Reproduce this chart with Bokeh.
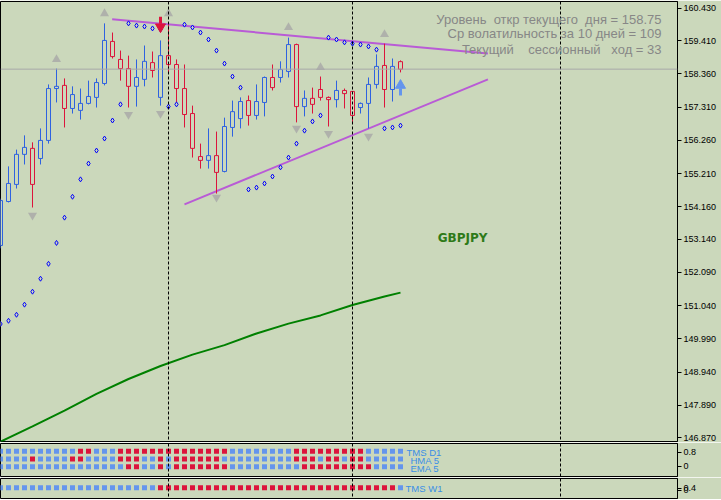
from bokeh.plotting import figure
from bokeh.models import (Range1d, FixedTicker, Span, Label, ColumnDataSource,
                          PrintfTickFormatter, AllLabels)
from bokeh.layouts import column
from bokeh.embed import file_html
from bokeh.resources import INLINE

# ---------------- data ----------------
bar_index = list(range(51))
open_ = [152.94, 154.33, 154.87, 155.82, 156.01, 155.69, 156.26, 157.90, 158.00, 157.27,
         157.21, 157.43, 157.62, 158.06, 159.39, 158.82, 158.53, 157.97, 158.19, 158.72,
         157.62, 158.94, 158.66, 157.90, 157.11, 155.75, 155.63, 155.78, 155.28, 156.67,
         156.95, 157.52, 157.05, 157.46, 158.25, 158.25, 158.44, 159.29, 157.33, 157.59,
         157.87, 157.62, 157.55, 157.84, 157.81, 157.30, 157.43, 158.03, 158.63, 157.87,
         158.75]
high = [154.42, 155.44, 155.97, 156.42, 156.20, 156.64, 158.03, 158.53, 158.22, 157.97,
        157.90, 158.15, 158.22, 159.96, 159.67, 159.10, 158.94, 158.82, 159.26, 159.07,
        159.42, 159.92, 158.82, 158.66, 157.36, 156.16, 156.64, 156.54, 156.98, 157.52,
        157.62, 157.68, 158.03, 158.28, 158.66, 158.76, 159.51, 159.32, 157.84, 157.93,
        158.28, 157.65, 158.15, 157.90, 157.81, 157.46, 158.25, 158.98, 159.32, 158.85,
        158.79]
low = [152.85, 154.30, 154.74, 155.50, 154.14, 155.50, 156.16, 157.46, 156.67, 157.11,
       156.92, 157.40, 157.30, 158.00, 158.85, 158.15, 157.30, 157.33, 157.97, 158.25,
       157.36, 158.41, 157.46, 156.67, 155.72, 155.37, 155.37, 154.58, 155.25, 156.38,
       156.64, 156.73, 156.92, 157.02, 157.84, 158.09, 158.25, 156.83, 157.02, 157.11,
       157.52, 156.70, 157.30, 157.27, 156.80, 157.11, 156.64, 157.90, 157.30, 157.49,
       158.41]
close = [154.36, 154.90, 155.82, 156.04, 154.87, 156.26, 157.90, 157.97, 157.27, 157.71,
         157.43, 157.65, 158.09, 159.42, 158.91, 158.53, 157.97, 158.25, 158.76, 158.47,
         158.94, 158.66, 157.90, 157.08, 156.01, 155.63, 155.78, 155.25, 156.70, 157.17,
         157.49, 157.05, 157.49, 158.25, 157.93, 158.50, 159.29, 157.33, 157.59, 157.40,
         157.62, 157.55, 157.84, 157.74, 157.05, 157.43, 158.03, 158.60, 157.87, 158.60,
         158.51]
sar = [150.46, 150.56, 150.75, 151.07, 151.48, 151.89, 152.36, 153.02, 153.82, 154.48,
       155.03, 155.53, 155.94, 156.32, 156.89, 157.40, 159.96, 159.89, 159.86, 159.80,
       159.77, 157.33, 157.40, 159.92, 159.83, 159.67, 159.45, 159.10, 158.69, 158.28,
       157.93, 154.71, 154.77, 154.90, 155.12, 155.41, 155.72, 156.16, 156.57, 156.86,
       157.05, 159.51, 159.45, 159.36, 159.32, 159.29, 159.23, 159.13, 156.64, 156.67,
       156.73]
ma_index = [0, 4, 8, 12, 16, 20, 24, 28, 32, 36, 40, 44, 48, 50]
ma_value = [146.74, 147.22, 147.72, 148.25, 148.72, 149.13, 149.49, 149.79, 150.16,
            150.47, 150.73, 151.06, 151.33, 151.45]
fractal_up_index = [7, 13, 21, 36, 40, 48]
fractal_up_price = [158.82, 160.27, 160.27, 159.83, 158.57, 159.61]
fractal_down_index = [4, 16, 20, 27, 37, 41, 46]
fractal_down_price = [153.89, 157.08, 157.11, 154.46, 156.64, 156.48, 156.39]
sell_signal_index = [20]
sell_signal_price = [159.85]
buy_signal_index = [50]
buy_signal_price = [158.00]
resistance_index = [13.96, 60.93]
resistance_price = [160.09, 159.01]
support_index = [23.0, 60.93]
support_price = [154.24, 158.19]
separator_index = [21, 44, 70]
price_ticks = [160.430, 159.410, 158.360, 157.310, 156.260, 155.210, 154.160,
               153.140, 152.090, 151.040, 149.990, 148.940, 147.890, 146.870]
bid_price = 158.513
day_open = "158.75"
avg_volatility = "109"
session_range = "33"
symbol = "GBPJPY"
tms_d1 = list("BBBBBBBBBBRRBBBRRRRRRRRRRRRRRBBBBBBBBRRRRRRRRRBBBBB")
hma_5 = list("BBBBRBBBBRRBBBBRRRBBRBRRRRRRBBBBBBBBBRRRBRRBRRBBBBB")
ema_5 = list("BBBBBBBBBBBBBBBBRRBBRBRRRRRRRBBBBBBBBBRRRRRRRRRBBBB")
tms_w1 = list("BBBBBBBBBBBBBBBBBBBBRRRRRRRRRRRRRRRRRRRRRRRRRRRRRRB")
panel2_ticks = [0, 0.8]
panel3_ticks = [0, 0.4]

# ---------------- style ----------------
BG = "#CBD8BB"
BULL = "#2F62E0"
BEAR = "#DC143C"
SQ_BLUE = "#6495ED"
SQ_RED = "#DC143C"
TL = "#B95BD6"
AXFONT = "Liberation Sans"
NB = "\u00a0"

X0 = 0.0
x_range = Range1d(X0, X0 + 677 / 8.0)


def kx(xpx):
    return xpx / 8.0 + X0


Y_TOP, Y_BOT = 160.651, 146.745
UPP = (Y_TOP - Y_BOT) / 440.0


def py(ypx):
    return Y_TOP - (ypx - 1) * UPP


def make_fig(h, yr, ticks, fmt):
    f = figure(width=721, height=h, x_range=x_range, y_range=yr,
               output_backend="svg", toolbar_location=None,
               x_axis_location=None, y_axis_location="right",
               min_border_left=0, min_border_right=44,
               min_border_top=1, min_border_bottom=1,
               background_fill_color=BG, border_fill_color=BG,
               outline_line_color="black", outline_line_width=1)
    f.xgrid.visible = False
    f.ygrid.visible = False
    ax = f.yaxis[0]
    ax.ticker = FixedTicker(ticks=ticks)
    ax.formatter = PrintfTickFormatter(format=fmt)
    ax.major_label_policy = AllLabels()
    ax.major_tick_out = 4
    ax.major_tick_in = 0
    ax.minor_tick_line_color = None
    ax.major_label_standoff = 2
    ax.axis_line_color = "black"
    ax.major_tick_line_color = "black"
    ax.major_label_text_font = AXFONT
    ax.major_label_text_font_size = "9px"
    ax.major_label_text_color = "black"
    for s in separator_index:
        f.add_layout(Span(location=s, dimension="height", line_color="black",
                          line_dash="3 2", line_width=1))
    return f


# ---------------- main price panel ----------------
p = make_fig(442, Range1d(Y_BOT, Y_TOP), price_ticks, "%.3f")

p.add_layout(Span(location=bid_price, dimension="width", line_color="#A8A8A8", line_width=1))

p.line(ma_index, ma_value, color="#008000", line_width=2)

p.line(resistance_index, resistance_price, color=TL, line_width=2)
p.line(support_index, support_price, color=TL, line_width=2)

colors = [BULL if c > o else BEAR for o, c in zip(open_, close)]
src = ColumnDataSource(dict(k=bar_index, o=open_, h=high, l=low, c=close,
                            top=[max(a, b) for a, b in zip(open_, close)],
                            bot=[min(a, b) for a, b in zip(open_, close)],
                            col=colors))
p.segment(x0="k", y0="l", x1="k", y1="h", color="col", line_width=1, source=src)
p.vbar(x="k", width=0.5, top="top", bottom="bot", fill_color=BG,
       line_color="col", line_width=1, source=src)

p.scatter(bar_index, sar, marker="diamond", size=5, line_color="#0000FF",
          fill_color=BG, line_width=1)

p.scatter(fractal_up_index, fractal_up_price, marker="triangle", size=9,
          fill_color="#A8A8A8", line_color=None, fill_alpha=0.8)
p.scatter(fractal_down_index, fractal_down_price, marker="inverted_triangle", size=9,
          fill_color="#A8A8A8", line_color=None, fill_alpha=0.8)

# signal arrows
p.segment(x0=sell_signal_index, x1=sell_signal_index,
          y0=[v + 3 * UPP for v in sell_signal_price],
          y1=[v + 10 * UPP for v in sell_signal_price],
          color=BEAR, line_width=3)
p.scatter(sell_signal_index, sell_signal_price, marker="inverted_triangle", size=10,
          fill_color=BEAR, line_color=BEAR)
p.segment(x0=buy_signal_index, x1=buy_signal_index,
          y0=[v - 3 * UPP for v in buy_signal_price],
          y1=[v - 10 * UPP for v in buy_signal_price],
          color=SQ_BLUE, line_width=3)
p.scatter(buy_signal_index, buy_signal_price, marker="triangle", size=10,
          fill_color=SQ_BLUE, line_color=SQ_BLUE)

info = ["Уровень " + NB + "откр текущего " + NB + "дня = " + day_open,
        "Ср волатильность за 10 дней = " + avg_volatility,
        "Текущий " + NB * 3 + "сессионный " + NB * 2 + "ход = " + session_range]
for t, yy in zip(info, [18.7, 33.3, 49.3]):
    p.add_layout(Label(x=kx(661), y=py(yy), text=t, text_align="right",
                       text_baseline="middle", text_color="#878787",
                       text_font="Liberation Sans", text_font_size="13px"))

p.add_layout(Label(x=kx(462), y=py(237), text=symbol, text_align="center",
                   text_baseline="middle", text_color="#2E7A18",
                   text_font="DejaVu Sans", text_font_size="12px",
                   text_font_style="bold"))

p.add_layout(Label(x=kx(678), y=bid_price, text="158.513", text_align="left",
                   text_baseline="middle", text_color="white",
                   text_font=AXFONT, text_font_size="9px",
                   background_fill_color="black"))

# ---------------- indicator panel 1 ----------------
Z2, PPU2 = 465.7, 17.5


def y2(ypx):
    return (Z2 - ypx) / PPU2


p2 = make_fig(35, Range1d(y2(476), y2(443)), panel2_ticks, "%g")
for row, yy in zip([tms_d1, hma_5, ema_5], [450.7, 458.5, 466.3]):
    p2.scatter(bar_index, [y2(yy)] * len(bar_index), marker="square", size=5,
               fill_color=[SQ_RED if c == "R" else SQ_BLUE for c in row], line_color=None)
for t, xx, yy in [("TMS D1", 406, 452), ("HMA 5", 410, 460), ("EMA 5", 410, 467.5)]:
    p2.add_layout(Label(x=kx(xx), y=y2(yy), text=t, text_align="left",
                        text_baseline="middle", text_color="#3A8EE6",
                        text_font="Liberation Sans", text_font_size="9.5px"))

# ---------------- indicator panel 2 ----------------
Z3, UPX3 = 489.5, 0.2


def y3(ypx):
    return (Z3 - ypx) * UPX3


p3 = make_fig(22, Range1d(y3(498), y3(478)), panel3_ticks, "%g")
p3.scatter(bar_index, [y3(487.3)] * len(bar_index), marker="square", size=5,
           fill_color=[SQ_RED if c == "R" else SQ_BLUE for c in tms_w1], line_color=None)
p3.add_layout(Label(x=kx(405), y=y3(488), text="TMS W1", text_align="left",
                    text_baseline="middle", text_color="#3A8EE6",
                    text_font="Liberation Sans", text_font_size="9.5px"))

layout = column(p, p2, p3, spacing=0)
open("out.html", "w").write(file_html(layout, INLINE))
